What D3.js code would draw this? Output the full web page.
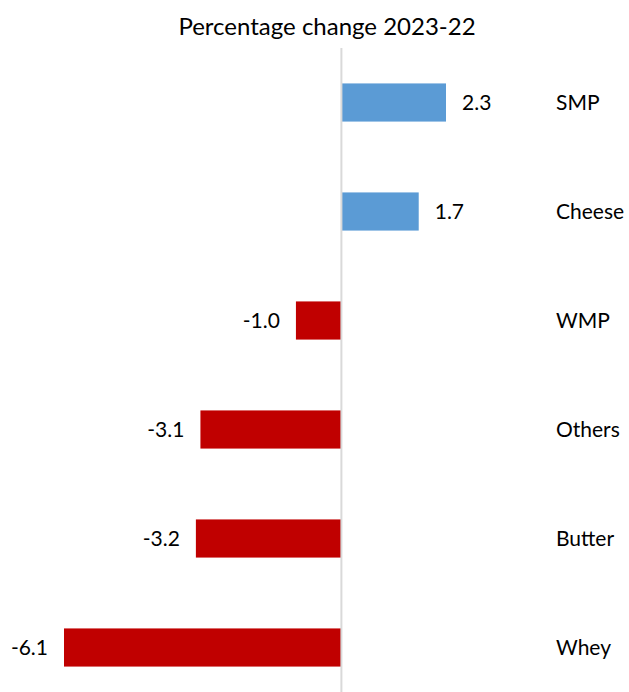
<!DOCTYPE html>
<html><head><meta charset="utf-8">
<script src="https://cdn.jsdelivr.net/npm/d3@7"></script>
<style>body{margin:0;background:#fff;} svg{display:block;}</style>
</head><body>
<svg id="c" width="629" height="692"></svg>
<script>
const categories = ["SMP","Cheese","WMP","Others","Butter","Whey"];
const values = [2.3, 1.7, -1.0, -3.1, -3.2, -6.1];
const titleText = "Percentage change 2023-22";

const svg = d3.select("#c");
const font = "Lato, 'Open Sans', sans-serif";
const x = d3.scaleLinear().domain([-6.1, 2.3]).range([64, 446]);
const y = d3.scaleBand().domain(categories).range([48, 702]).paddingInner(0.65).paddingOuter(0.325);

svg.append("text").attr("x", 327).attr("y", 35).attr("text-anchor","middle")
  .style("font-family", font).style("font-size","24px").attr("fill","#000").text(titleText);

svg.selectAll("rect.bar").data(values).enter().append("rect")
  .attr("class","bar")
  .attr("x", d => x(Math.min(0,d)))
  .attr("width", d => Math.abs(x(d)-x(0)))
  .attr("y", (d,i) => y(categories[i]))
  .attr("height", y.bandwidth())
  .attr("fill", d => d >= 0 ? "#5b9bd5" : "#c00000");

svg.append("line").attr("x1", x(0)).attr("x2", x(0)).attr("y1", 48).attr("y2", 692)
  .attr("stroke","#d9d9d9").attr("stroke-width",2);

svg.selectAll("text.val").data(values).enter().append("text")
  .attr("class","val")
  .attr("x", d => d >= 0 ? x(d) + 16 : x(d) - 16)
  .attr("y", (d,i) => y(categories[i]) + y.bandwidth()/2)
  .attr("dy","0.35em")
  .attr("text-anchor", d => d >= 0 ? "start" : "end")
  .style("font-family", font).style("font-size","21px").attr("fill","#000")
  .text(d => d3.format(".1f")(d).replace("−","-"));

svg.selectAll("text.cat").data(categories).enter().append("text")
  .attr("class","cat")
  .attr("x", 556)
  .attr("y", d => y(d) + y.bandwidth()/2)
  .attr("dy","0.35em")
  .style("font-family", font).style("font-size","21px").attr("fill","#000")
  .text(d => d);
</script>
</body></html>
